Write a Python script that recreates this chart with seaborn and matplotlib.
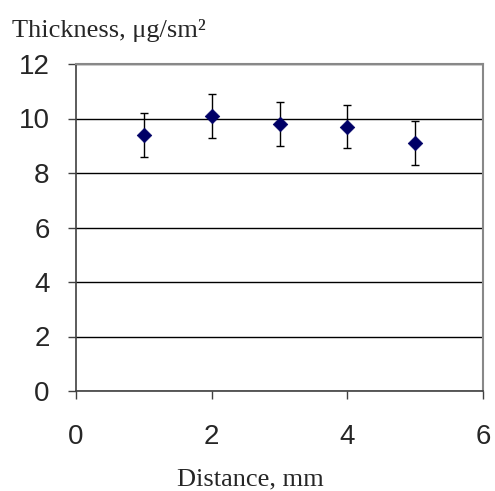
import matplotlib
matplotlib.use("Agg")
import matplotlib.pyplot as plt
import seaborn as sns
import pandas as pd

distance = [1, 2, 3, 4, 5]
thickness = [9.4, 10.1, 9.8, 9.7, 9.1]
error = [0.8, 0.8, 0.8, 0.8, 0.8]
x_ticks = [0, 2, 4, 6]
y_ticks = [0, 2, 4, 6, 8, 10, 12]

df = pd.DataFrame({"Distance": distance, "Thickness": thickness, "err": error})

sns.set_style("white")
plt.rcParams['font.family'] = ['Liberation Sans', 'DejaVu Sans']

fig = plt.figure(figsize=(4.95, 4.91), dpi=100)
ax = fig.add_axes([76/495, 1-391/491, (483-76)/495, (391-64)/491])

ax.errorbar(df["Distance"], df["Thickness"], yerr=df["err"], fmt="none",
            ecolor="black", elinewidth=1, capsize=3, capthick=1, zorder=3)
sns.scatterplot(data=df, x="Distance", y="Thickness", marker="D", s=55,
                color="#000066", edgecolor="#000066", linewidth=0.5, ax=ax, zorder=4)

ax.set_xlim(0, 6)
ax.set_ylim(0, 12)
ax.set_xticks(x_ticks)
ax.set_yticks(y_ticks)
ax.yaxis.grid(True, color="black", linewidth=1)
ax.set_axisbelow(True)

ax.tick_params(axis="both", direction="out", length=6, width=1, color="#404040",
               labelsize=20, left=True, bottom=True)
ax.tick_params(axis="x", pad=18)
ax.tick_params(axis="y", pad=13)

for side in ["left", "bottom"]:
    ax.spines[side].set_color("#404040")
    ax.spines[side].set_linewidth(1.2)
for side in ["top", "right"]:
    ax.spines[side].set_visible(True)
    ax.spines[side].set_color("#888888")
    ax.spines[side].set_linewidth(1.5)

ax.set_xlabel("Distance, mm", family="Liberation Serif", fontsize=19)
ax.xaxis.set_label_coords((250 - 76) / 407, (391 - 468) / 327)
ax.set_ylabel("")
fig.text(12/495, 1-30/491, "Thickness, μg/sm²", family="Liberation Serif",
         fontsize=19, va="center", ha="left")

fig.savefig("out.png", dpi=100)
